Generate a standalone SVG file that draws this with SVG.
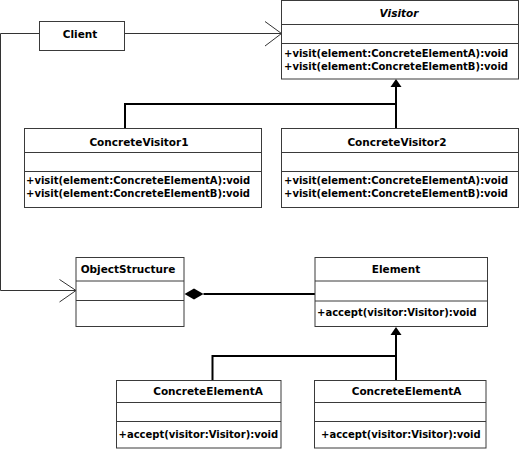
<svg xmlns="http://www.w3.org/2000/svg" width="519" height="450" viewBox="0 0 519 450">
<style>
.box{fill:#fff;stroke:#3a3a3a;stroke-width:1}
.div{stroke:#3a3a3a;stroke-width:1}
.t{font-family:"DejaVu Sans",Verdana,sans-serif;font-weight:bold;font-size:10.5px;fill:#000;text-anchor:middle}
.m{font-family:"DejaVu Sans",Verdana,sans-serif;font-weight:bold;font-size:10px;fill:#000}
.dep{fill:none;stroke:#333;stroke-width:1}
.gen{fill:none;stroke:#000;stroke-width:2}
</style>
<rect width="519" height="450" fill="#fff"/>
<g id="connectors">
  <path class="dep" d="M124.5,33.5 H281.5"/>
  <polyline class="dep" points="265,21.5 281.5,33.5 265,46"/>
  <path class="dep" d="M39.5,33.5 H0.5 V290.5 H76"/>
  <polyline class="dep" points="59.5,279.5 76,290.5 59.5,302"/>
  <path class="gen" d="M125,128 V104 H396"/>
  <path class="gen" d="M396,128 V86"/>
  <polygon points="396,79 390.5,87 401.5,87" fill="#000"/>
  <path class="gen" d="M203.5,294 H315"/>
  <polygon points="184.5,294 194,288.5 203.5,294 194,299.5" fill="#000"/>
  <path class="gen" d="M396,380 V334"/>
  <path class="gen" d="M212.5,380 V356 H396"/>
  <polygon points="396,327 390.5,335 401.5,335" fill="#000"/>
</g>
<g id="client">
  <rect class="box" x="39.5" y="21.5" width="85" height="29"/>
  <text class="t" x="80" y="37.5">Client</text>
</g>
<g id="visitor">
  <rect class="box" x="281.5" y="0.5" width="237" height="78.5"/>
  <line class="div" x1="281.5" y1="24.5" x2="518.5" y2="24.5"/>
  <line class="div" x1="281.5" y1="43.5" x2="518.5" y2="43.5"/>
  <text class="t" x="399" y="17" font-style="italic">Visitor</text>
  <text class="m" x="284" y="56.5">+visit(element:ConcreteElementA):void</text>
  <text class="m" x="284" y="70">+visit(element:ConcreteElementB):void</text>
</g>
<g id="concreteVisitor1">
  <rect class="box" x="24.5" y="128.5" width="237" height="79"/>
  <line class="div" x1="24.5" y1="152.5" x2="261.5" y2="152.5"/>
  <line class="div" x1="24.5" y1="171.5" x2="261.5" y2="171.5"/>
  <text class="t" x="139" y="146">ConcreteVisitor1</text>
  <text class="m" x="26" y="183.5">+visit(element:ConcreteElementA):void</text>
  <text class="m" x="26" y="196.5">+visit(element:ConcreteElementB):void</text>
</g>
<g id="concreteVisitor2">
  <rect class="box" x="281.5" y="128.5" width="237" height="79"/>
  <line class="div" x1="281.5" y1="152.5" x2="518.5" y2="152.5"/>
  <line class="div" x1="281.5" y1="171.5" x2="518.5" y2="171.5"/>
  <text class="t" x="397" y="146">ConcreteVisitor2</text>
  <text class="m" x="284" y="183.5">+visit(element:ConcreteElementA):void</text>
  <text class="m" x="284" y="196.5">+visit(element:ConcreteElementB):void</text>
</g>
<g id="objectStructure">
  <rect class="box" x="76" y="257.5" width="108" height="69"/>
  <line class="div" x1="76" y1="281" x2="184" y2="281"/>
  <line class="div" x1="76" y1="300.5" x2="184" y2="300.5"/>
  <text class="t" x="128" y="272.5">ObjectStructure</text>
</g>
<g id="element">
  <rect class="box" x="315" y="257.5" width="172.5" height="69"/>
  <line class="div" x1="315" y1="281" x2="487.5" y2="281"/>
  <line class="div" x1="315" y1="301" x2="487.5" y2="301"/>
  <text class="t" x="396" y="273">Element</text>
  <text class="m" x="317" y="315.5">+accept(visitor:Visitor):void</text>
</g>
<g id="concreteElementA1">
  <rect class="box" x="116.5" y="380.5" width="164.5" height="67.5"/>
  <line class="div" x1="116.5" y1="402.5" x2="281" y2="402.5"/>
  <line class="div" x1="116.5" y1="421.5" x2="281" y2="421.5"/>
  <text class="t" x="208" y="395">ConcreteElementA</text>
  <text class="m" x="118.5" y="438">+accept(visitor:Visitor):void</text>
</g>
<g id="concreteElementA2">
  <rect class="box" x="314.5" y="380.5" width="171.5" height="67.5"/>
  <line class="div" x1="314.5" y1="402.5" x2="486" y2="402.5"/>
  <line class="div" x1="314.5" y1="421.5" x2="486" y2="421.5"/>
  <text class="t" x="406.5" y="395">ConcreteElementA</text>
  <text class="m" x="321" y="438">+accept(visitor:Visitor):void</text>
</g>
</svg>
